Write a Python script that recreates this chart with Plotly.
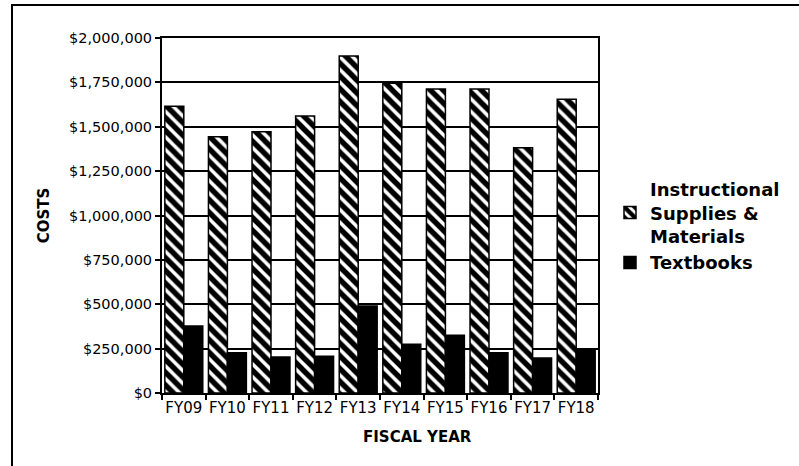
import plotly.graph_objects as go

years = ["FY09", "FY10", "FY11", "FY12", "FY13", "FY14", "FY15", "FY16", "FY17", "FY18"]
instructional = [1615000, 1444000, 1472000, 1561000, 1899000, 1745000, 1713000, 1713000, 1382000, 1655000]
textbooks = [378000, 227000, 203000, 207000, 490000, 274000, 325000, 227000, 197000, 239000]
ytick_vals = [0, 250000, 500000, 750000, 1000000, 1250000, 1500000, 1750000, 2000000]
ytick_text = ["$0", "$250,000", "$500,000", "$750,000", "$1,000,000", "$1,250,000",
              "$1,500,000", "$1,750,000", "$2,000,000"]

FONT = "DejaVu Sans, Liberation Sans, sans-serif"

fig = go.Figure()
fig.add_trace(go.Bar(
    x=years, y=instructional, name="Instructional<br>Supplies &<br>Materials",
    marker=dict(color="white", line=dict(color="black", width=1.5),
                pattern=dict(shape="\\", fgcolor="black", bgcolor="white", size=9,
                             solidity=0.6, fgopacity=1)),
))
fig.add_trace(go.Bar(
    x=years, y=textbooks, name="Textbooks",
    marker=dict(color="black", line=dict(color="black", width=1.5)),
))

fig.update_layout(
    width=799, height=466,
    margin=dict(l=162, r=201, t=38, b=73),
    paper_bgcolor="white", plot_bgcolor="white",
    barmode="group", bargap=0.13, bargroupgap=0,
    font=dict(family=FONT, color="black", size=15),
    legend=dict(x=(610 - 162) / 436, y=(393 - 226) / 355, xanchor="left", yanchor="middle",
                font=dict(size=18, family=FONT, weight="bold"),
                itemwidth=30, bgcolor="rgba(0,0,0,0)"),
    showlegend=True,
)
fig.update_xaxes(
    showline=True, linecolor="black", linewidth=2, mirror=True,
    ticks="outside", tickson="boundaries", ticklen=5, tickcolor="black", tickwidth=1.5,
    tickfont=dict(size=15), tickangle=0,
)
fig.update_yaxes(
    range=[0, 2000000], tickvals=ytick_vals, ticktext=ytick_text,
    showline=True, linecolor="black", linewidth=2, mirror=True,
    showgrid=True, gridcolor="black", gridwidth=1.5,
    ticks="outside", ticklen=5, tickcolor="black", tickwidth=1.5,
    title=dict(text="<b>COSTS</b>", font=dict(size=15), standoff=16),
    tickfont=dict(size=14.5), zeroline=False,
)
fig.add_annotation(text="<b>FISCAL YEAR</b>", xref="paper", yref="paper",
                   x=(417 - 162) / 436, y=-(437 - 393) / 355,
                   xanchor="center", yanchor="middle", showarrow=False,
                   font=dict(size=15, family=FONT))
fig.add_shape(type="rect", xref="paper", yref="paper",
              x0=(12 - 162) / 436, x1=(806 - 162) / 436,
              y0=-(473 - 393) / 355, y1=1 + (38 - 5) / 355,
              line=dict(color="black", width=2), fillcolor="rgba(0,0,0,0)", layer="below")

fig.write_html("out.html", config={"displayModeBar": False},
               post_script="document.body.style.margin='0px';")
